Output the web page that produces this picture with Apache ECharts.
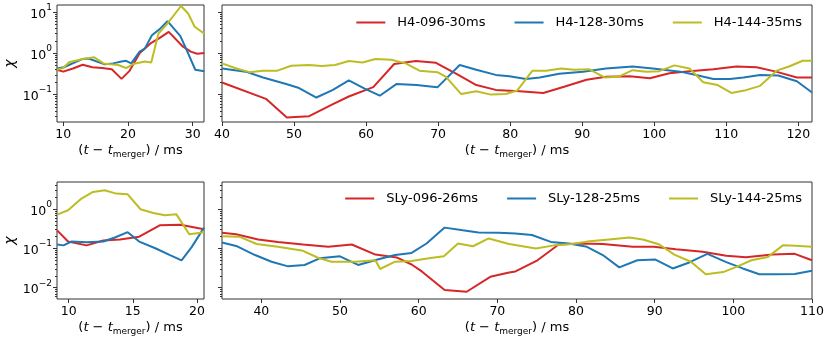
<!DOCTYPE html>
<html>
<head>
<meta charset="utf-8">
<script src="https://cdn.jsdelivr.net/npm/echarts@6/dist/echarts.min.js"></script>
<style>
  html, body { margin: 0; padding: 0; background: #fff; }
  #chart { width: 830px; height: 340px; }
</style>
</head>
<body>
<div id="chart"></div>
<script>
// H4 runs: [t - t_merger (ms), chi]
const h4_096_early = [[9,0.40],[10,0.36],[11.5,0.43],[13,0.53],[14.5,0.46],[16,0.44],[17.5,0.41],[19,0.24],[20.2,0.37],[21.8,1.0],[23.6,1.8],[24.8,2.3],[26.3,3.3],[28.4,1.5],[29.7,1.1],[30.7,0.98],[31.8,1.02]];
const h4_128_early = [[9,0.43],[10.1,0.46],[13,0.73],[13.9,0.75],[16.4,0.54],[17.7,0.57],[19,0.63],[19.7,0.66],[20.5,0.57],[21.8,1.1],[22.6,1.3],[23.7,2.75],[24.9,3.85],[26.1,6.0],[28.1,2.6],[29.3,1.0],[30.4,0.40],[31.8,0.37]];
const h4_144_early = [[9,0.40],[10,0.44],[10.9,0.61],[13,0.73],[14.8,0.80],[16.2,0.57],[17.3,0.54],[18.5,0.52],[19.7,0.44],[20.8,0.55],[22.6,0.63],[23.6,0.60],[24.7,3.0],[25.9,4.8],[28.2,14.0],[29.3,9.2],[30.3,4.4],[31.8,3.0]];

const h4_096_late = [[40,0.196],[46.1,0.079],[49.0,0.028],[52.1,0.030],[55.4,0.059],[57.6,0.090],[61.0,0.152],[63.9,0.55],[66.9,0.65],[69.7,0.59],[72.8,0.30],[75.3,0.17],[78.0,0.13],[81.3,0.12],[84.6,0.109],[87.6,0.157],[90.6,0.228],[93.3,0.27],[96.6,0.28],[99.4,0.25],[102.1,0.33],[104.9,0.37],[108.2,0.41],[111.4,0.48],[114.2,0.46],[116.9,0.36],[119.8,0.26],[121.9,0.26]];
const h4_128_late = [[40,0.43],[43.3,0.36],[45.7,0.26],[48.9,0.18],[50.7,0.144],[53.1,0.085],[55.4,0.13],[57.6,0.22],[59.8,0.14],[61.9,0.094],[64.2,0.18],[67.0,0.17],[69.9,0.15],[73.0,0.52],[75.3,0.40],[78.0,0.30],[79.9,0.28],[82.2,0.24],[84.1,0.26],[86.8,0.32],[90.1,0.36],[93.3,0.43],[97.0,0.48],[99.8,0.43],[103.6,0.36],[105.8,0.30],[108.2,0.24],[110.5,0.24],[112.4,0.26],[114.7,0.30],[117.2,0.29],[119.8,0.21],[121.9,0.112]];
const h4_144_late = [[40,0.57],[42,0.43],[43.8,0.35],[45.7,0.38],[47.7,0.38],[49.6,0.50],[52.1,0.52],[53.8,0.49],[55.7,0.52],[57.6,0.65],[59.5,0.60],[61.3,0.73],[63.5,0.70],[65.5,0.57],[67.4,0.38],[69.9,0.35],[71.1,0.27],[73.2,0.103],[75.3,0.12],[77.3,0.10],[79.4,0.103],[81.0,0.126],[83.1,0.38],[85.0,0.38],[87.1,0.43],[88.9,0.40],[91.0,0.41],[93.1,0.26],[95.0,0.27],[97.0,0.39],[98.9,0.36],[100.7,0.37],[102.8,0.51],[104.9,0.43],[106.8,0.20],[108.8,0.17],[110.7,0.11],[112.5,0.125],[114.7,0.163],[117.0,0.38],[118.7,0.48],[120.6,0.66],[121.9,0.66]];

// SLy runs
const sly_096_early = [[9.1,0.29],[9.95,0.15],[11.4,0.12],[12.7,0.16],[14.0,0.17],[15.5,0.20],[17.1,0.39],[18.7,0.40],[20.55,0.31]];
const sly_128_early = [[9.1,0.126],[9.6,0.12],[10.2,0.15],[11.4,0.145],[12.7,0.15],[13.6,0.19],[14.6,0.26],[15.5,0.15],[16.8,0.10],[17.9,0.068],[18.8,0.050],[19.6,0.11],[20.55,0.34]];
const sly_144_early = [[9.1,0.73],[9.95,0.94],[11.0,1.87],[11.9,2.76],[12.8,3.04],[13.7,2.5],[14.6,2.4],[15.6,1.0],[16.6,0.80],[17.5,0.70],[18.4,0.74],[19.4,0.23],[20.3,0.25],[20.55,0.27]];

const sly_096_late = [[35,0.25],[36.8,0.23],[39.6,0.17],[42.1,0.147],[45.3,0.126],[48.5,0.11],[51.5,0.126],[54.5,0.07],[57.2,0.059],[59.1,0.039],[60.4,0.026],[63.3,0.0087],[66.1,0.0079],[69.1,0.019],[71.5,0.0245],[72.3,0.026],[75.1,0.050],[77.8,0.126],[80.6,0.134],[83.4,0.13],[87.2,0.11],[89.9,0.11],[92.7,0.096],[96.1,0.082],[99.1,0.065],[101.6,0.06],[105.0,0.07],[107.8,0.073],[110,0.05]];
const sly_128_late = [[35,0.142],[36.8,0.116],[39.2,0.068],[41.3,0.046],[43.4,0.035],[45.5,0.038],[47.4,0.056],[50.0,0.063],[52.3,0.038],[54.9,0.053],[57.0,0.068],[59.1,0.077],[61.0,0.134],[63.3,0.34],[65.6,0.29],[67.6,0.255],[70.2,0.25],[72.3,0.24],[74.4,0.22],[76.8,0.147],[79.1,0.134],[81.4,0.11],[83.4,0.068],[85.5,0.033],[87.8,0.050],[90.1,0.052],[92.3,0.031],[94.4,0.044],[96.7,0.073],[99.1,0.045],[101.2,0.031],[103.3,0.022],[105.5,0.022],[107.8,0.0225],[110,0.027]];
const sly_144_late = [[35,0.205],[37.2,0.20],[39.4,0.13],[42.1,0.11],[45.3,0.087],[47.2,0.058],[48.9,0.046],[51.9,0.046],[54.5,0.05],[55.1,0.030],[57.0,0.046],[59.1,0.048],[61.3,0.056],[63.2,0.063],[65.0,0.134],[66.9,0.114],[68.9,0.18],[71.5,0.13],[74.9,0.10],[77.2,0.12],[79.5,0.13],[81.7,0.153],[84.2,0.17],[86.8,0.19],[88.5,0.17],[90.6,0.126],[92.5,0.07],[94.6,0.046],[96.5,0.022],[98.7,0.025],[100.4,0.034],[102.3,0.050],[104.4,0.061],[106.3,0.12],[107.9,0.117],[110,0.11]];

const h4Names = ["H4-096-30ms", "H4-128-30ms", "H4-144-35ms"];
const slyNames = ["SLy-096-26ms", "SLy-128-25ms", "SLy-144-25ms"];
const colors = ["#d62728", "#1f77b4", "#bcbd22"];

// axis ranges and ticks
const xRanges = [[9.03, 31.75], [40, 121.9], [9.09, 20.55], [35, 110]];
const xTicks = [[10, 20, 30], [40, 50, 60, 70, 80, 90, 100, 110, 120], [10, 15, 20], [40, 50, 60, 70, 80, 90, 100, 110]];
const yRanges = [[0.0217, 14.8], [0.00516, 4.94]];
const yTicks = [[0.1, 1, 10], [0.01, 0.1, 1]];

const FONT = "DejaVu Sans";
const AXIS_COLOR = "#333";

function minorTicks(range) {
  let out = [];
  for (let e = -3; e <= 1; e++) {
    for (let m = 2; m <= 9; m++) {
      let v = m * Math.pow(10, e);
      if (v > range[0] && v < range[1]) out.push(v);
    }
  }
  return out;
}

function supLabel(v) {
  let e = Math.round(Math.log10(v));
  let s = e < 0 ? "\u2212" + (-e) : "" + e;
  return "{b|10}{e|" + s + "}";
}

const grids = [
  { left: 57, top: 5, width: 147, height: 117 },
  { left: 222, top: 5, width: 590, height: 117 },
  { left: 57, top: 182, width: 147, height: 117 },
  { left: 222, top: 182, width: 590, height: 117 },
];

let xAxes = [];
let yAxes = [];
grids.forEach((g, i) => {
  let row = i < 2 ? 0 : 1;
  xAxes.push({
    type: "value",
    gridIndex: i,
    min: xRanges[i][0],
    max: xRanges[i][1],
    name: "{n|(}{i|t}{n| \u2212 }{i|t}{s|merger}{n|) / ms}",
    nameLocation: "middle",
    nameGap: 21,
    nameTextStyle: {
      rich: {
        n: { fontFamily: FONT, fontSize: 13, color: "#000", lineHeight: 16 },
        i: { fontFamily: FONT, fontSize: 13, fontStyle: "italic", color: "#000", lineHeight: 16 },
        s: { fontFamily: FONT, fontSize: 9, color: "#000", lineHeight: 10, verticalAlign: "bottom" },
      },
    },
    axisLine: { show: false },
    splitLine: { show: false },
    axisTick: { show: true, length: 4, customValues: xTicks[i], lineStyle: { color: AXIS_COLOR } },
    axisLabel: { customValues: xTicks[i], margin: 6, fontFamily: FONT, fontSize: 12.5, color: "#000" },
  });
  // major ticks
  yAxes.push({
    type: "log",
    logBase: 10,
    gridIndex: i,
    position: "left",
    min: yRanges[row][0],
    max: yRanges[row][1],
    name: i % 2 === 0 ? "\u03c7" : "",
    nameLocation: "middle",
    nameRotate: 90,
    nameGap: 40,
    nameTextStyle: { fontFamily: FONT, fontSize: 14, fontStyle: "italic", color: "#000" },
    axisLine: { show: false },
    splitLine: { show: false },
    axisTick: { show: true, length: 4, customValues: yTicks[row], lineStyle: { color: AXIS_COLOR } },
    axisLabel: {
      show: i % 2 === 0,
      customValues: yTicks[row],
      margin: 5,
      formatter: supLabel,
      rich: {
        b: { fontFamily: FONT, fontSize: 12.5, color: "#000", lineHeight: 18, verticalAlign: "bottom" },
        e: { fontFamily: FONT, fontSize: 9, color: "#000", lineHeight: 18, verticalAlign: "top" },
      },
    },
  });
});
// minor tick overlays, on the same left edge
grids.forEach((g, i) => {
  let row = i < 2 ? 0 : 1;
  yAxes.push({
    type: "log",
    logBase: 10,
    gridIndex: i,
    position: "left",
    offset: 0,
    min: yRanges[row][0],
    max: yRanges[row][1],
    axisLine: { show: false },
    splitLine: { show: false },
    axisLabel: { show: false },
    axisTick: { show: true, length: 2, customValues: minorTicks(yRanges[row]), lineStyle: { color: AXIS_COLOR } },
  });
});

function line(name, data, color, idx) {
  return {
    name: name,
    type: "line",
    data: data,
    xAxisIndex: idx,
    yAxisIndex: idx,
    showSymbol: false,
    symbol: "none",
    clip: true,
    color: color,
    lineStyle: { width: 2, color: color },
    emphasis: { disabled: true },
  };
}

const series = [
  line(h4Names[0], h4_096_early, colors[0], 0),
  line(h4Names[1], h4_128_early, colors[1], 0),
  line(h4Names[2], h4_144_early, colors[2], 0),
  line(h4Names[0], h4_096_late, colors[0], 1),
  line(h4Names[1], h4_128_late, colors[1], 1),
  line(h4Names[2], h4_144_late, colors[2], 1),
  line(slyNames[0], sly_096_early, colors[0], 2),
  line(slyNames[1], sly_128_early, colors[1], 2),
  line(slyNames[2], sly_144_early, colors[2], 2),
  line(slyNames[0], sly_096_late, colors[0], 3),
  line(slyNames[1], sly_128_late, colors[1], 3),
  line(slyNames[2], sly_144_late, colors[2], 3),
];

function legendAt(names, top) {
  return {
    data: names,
    top: top,
    right: 28,
    padding: 0,
    icon: "rect",
    itemWidth: 29,
    itemHeight: 2,
    itemGap: 29,
    textStyle: { fontFamily: FONT, fontSize: 13, color: "#000", padding: [0, 0, 0, 7] },
  };
}

let chart = echarts.init(document.getElementById("chart"), null, { renderer: "canvas" });
chart.setOption({
  animation: false,
  backgroundColor: "#fff",
  grid: grids.map((g) => Object.assign({ show: true, borderColor: AXIS_COLOR, borderWidth: 1, backgroundColor: "transparent" }, g)),
  xAxis: xAxes,
  yAxis: yAxes,
  legend: [legendAt(h4Names, 16), legendAt(slyNames, 192)],
  series: series,
});
</script>
</body>
</html>
